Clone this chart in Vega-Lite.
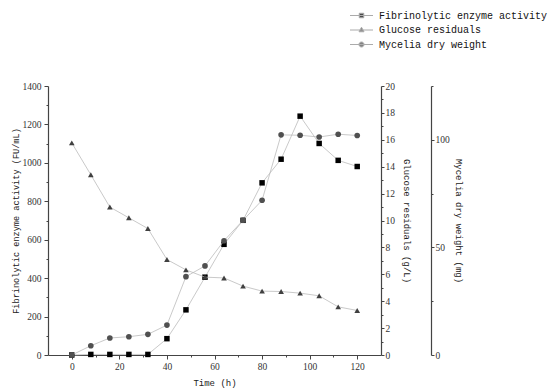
{
  "$schema": "https://vega.github.io/schema/vega-lite/v6.json",
  "autosize": "none",
  "width": 333,
  "height": 269,
  "padding": {"left": 48, "top": 86, "right": 169, "bottom": 37},
  "background": "white",
  "config": {
    "view": {"stroke": null},
    "axis": {
      "domainColor": "#444",
      "domainWidth": 1.2,
      "tickColor": "#444",
      "tickWidth": 1,
      "grid": false,
      "labelFont": "Liberation Serif",
      "labelFontSize": 9.5,
      "labelColor": "#333",
      "titleFont": "Liberation Mono",
      "titleFontSize": 9,
      "titleFontWeight": "normal",
      "titleColor": "#222",
      "labelOverlap": false,
      "labelFlush": false
    }
  },
  "data": {
    "values": [
      {"t": 0, "series": "Fibrinolytic enzyme activity", "v": 0},
      {"t": 8, "series": "Fibrinolytic enzyme activity", "v": 3},
      {"t": 16, "series": "Fibrinolytic enzyme activity", "v": 3},
      {"t": 24, "series": "Fibrinolytic enzyme activity", "v": 3},
      {"t": 32, "series": "Fibrinolytic enzyme activity", "v": 3},
      {"t": 40, "series": "Fibrinolytic enzyme activity", "v": 85},
      {"t": 48, "series": "Fibrinolytic enzyme activity", "v": 235},
      {"t": 56, "series": "Fibrinolytic enzyme activity", "v": 405},
      {"t": 64, "series": "Fibrinolytic enzyme activity", "v": 576},
      {"t": 72, "series": "Fibrinolytic enzyme activity", "v": 701},
      {"t": 80, "series": "Fibrinolytic enzyme activity", "v": 896},
      {"t": 88, "series": "Fibrinolytic enzyme activity", "v": 1019},
      {"t": 96, "series": "Fibrinolytic enzyme activity", "v": 1243},
      {"t": 104, "series": "Fibrinolytic enzyme activity", "v": 1101},
      {"t": 112, "series": "Fibrinolytic enzyme activity", "v": 1013},
      {"t": 120, "series": "Fibrinolytic enzyme activity", "v": 981},
      {"t": 0, "series": "Glucose residuals", "v": 15.77},
      {"t": 8, "series": "Glucose residuals", "v": 13.4},
      {"t": 16, "series": "Glucose residuals", "v": 11.0},
      {"t": 24, "series": "Glucose residuals", "v": 10.2},
      {"t": 32, "series": "Glucose residuals", "v": 9.4},
      {"t": 40, "series": "Glucose residuals", "v": 7.1},
      {"t": 48, "series": "Glucose residuals", "v": 6.33},
      {"t": 56, "series": "Glucose residuals", "v": 5.79},
      {"t": 64, "series": "Glucose residuals", "v": 5.73},
      {"t": 72, "series": "Glucose residuals", "v": 5.12},
      {"t": 80, "series": "Glucose residuals", "v": 4.75},
      {"t": 88, "series": "Glucose residuals", "v": 4.72},
      {"t": 96, "series": "Glucose residuals", "v": 4.6},
      {"t": 104, "series": "Glucose residuals", "v": 4.4},
      {"t": 112, "series": "Glucose residuals", "v": 3.58},
      {"t": 120, "series": "Glucose residuals", "v": 3.31},
      {"t": 0, "series": "Mycelia dry weight", "v": 0},
      {"t": 8, "series": "Mycelia dry weight", "v": 4.3},
      {"t": 16, "series": "Mycelia dry weight", "v": 7.9},
      {"t": 24, "series": "Mycelia dry weight", "v": 8.5},
      {"t": 32, "series": "Mycelia dry weight", "v": 9.6},
      {"t": 40, "series": "Mycelia dry weight", "v": 13.9},
      {"t": 48, "series": "Mycelia dry weight", "v": 36.4},
      {"t": 56, "series": "Mycelia dry weight", "v": 41.4},
      {"t": 64, "series": "Mycelia dry weight", "v": 53.1},
      {"t": 72, "series": "Mycelia dry weight", "v": 62.6},
      {"t": 80, "series": "Mycelia dry weight", "v": 71.9},
      {"t": 88, "series": "Mycelia dry weight", "v": 102.3},
      {"t": 96, "series": "Mycelia dry weight", "v": 102.1},
      {"t": 104, "series": "Mycelia dry weight", "v": 101.3},
      {"t": 112, "series": "Mycelia dry weight", "v": 102.6},
      {"t": 120, "series": "Mycelia dry weight", "v": 102}
    ]
  },
  "encoding": {
    "x": {
      "field": "t",
      "type": "quantitative",
      "scale": {"domain": [-10, 130], "nice": false, "zero": false},
      "axis": {
        "title": "Time (h)",
        "values": [0, 10, 20, 30, 40, 50, 60, 70, 80, 90, 100, 110, 120],
        "labelExpr": "datum.value % 20 === 0 ? datum.label : ''",
        "tickSize": {"condition": {"test": "datum.value % 20 === 0", "value": 4}, "value": 2},
        "labelPadding": 2,
        "titlePadding": 8
      }
    }
  },
  "layer": [
    {
      "transform": [{"filter": "datum.series === 'Fibrinolytic enzyme activity'"}],
      "encoding": {
        "y": {
          "field": "v",
          "type": "quantitative",
          "scale": {"domain": [0, 1400], "nice": false},
          "axis": {
            "orient": "left",
            "title": "Fibrinolytic enzyme activity (FU/mL)",
            "titleFontSize": 8.6,
            "values": [0, 100, 200, 300, 400, 500, 600, 700, 800, 900, 1000, 1100, 1200, 1300, 1400],
            "format": "d",
            "labelExpr": "datum.value % 200 === 0 ? datum.label : ''",
            "tickSize": {"condition": {"test": "datum.value % 200 === 0", "value": 4}, "value": 2},
            "labelPadding": 3,
            "titlePadding": 2
          }
        }
      },
      "layer": [
        {"mark": {"type": "line", "color": "#bbbbbb", "strokeWidth": 0.8}},
        {"mark": {"type": "point", "shape": "square", "filled": true, "color": "#000000", "size": 30, "opacity": 1}}
      ]
    },
    {
      "transform": [{"filter": "datum.series === 'Glucose residuals'"}],
      "encoding": {
        "y": {
          "field": "v",
          "type": "quantitative",
          "scale": {"domain": [0, 20], "nice": false},
          "axis": {
            "orient": "right",
            "title": "Glucose residuals (g/L)",
            "values": [0, 1, 2, 3, 4, 5, 6, 7, 8, 9, 10, 11, 12, 13, 14, 15, 16, 17, 18, 19, 20],
            "labelExpr": "datum.value % 2 === 0 ? datum.label : ''",
            "tickSize": {"condition": {"test": "datum.value % 2 === 0", "value": 3}, "value": 2},
            "labelPadding": 1,
            "titlePadding": 7
          }
        }
      },
      "layer": [
        {"mark": {"type": "line", "color": "#bbbbbb", "strokeWidth": 0.8}},
        {"mark": {"type": "point", "shape": "triangle-up", "filled": true, "color": "#404040", "size": 32, "opacity": 1}}
      ]
    },
    {
      "transform": [{"filter": "datum.series === 'Mycelia dry weight'"}],
      "encoding": {
        "y": {
          "field": "v",
          "type": "quantitative",
          "scale": {"domain": [0, 125], "nice": false},
          "axis": {
            "orient": "right",
            "offset": 50,
            "title": "Mycelia dry weight (mg)",
            "values": [0, 25, 50, 75, 100, 125],
            "labelExpr": "datum.value % 50 === 0 ? datum.label : ''",
            "tickSize": {"condition": {"test": "datum.value % 50 === 0", "value": 3}, "value": 2},
            "labelPadding": 1,
            "titlePadding": 4
          }
        }
      },
      "layer": [
        {"mark": {"type": "line", "color": "#bbbbbb", "strokeWidth": 0.8}},
        {"mark": {"type": "point", "shape": "circle", "filled": true, "color": "#505050", "size": 32, "opacity": 1}}
      ]
    },
    {
      "transform": [{"filter": "datum.t < -100"}],
      "mark": {"type": "point", "filled": true, "size": 100},
      "encoding": {
        "color": {
          "field": "series",
          "type": "nominal",
          "scale": {
            "domain": ["Fibrinolytic enzyme activity", "Glucose residuals", "Mycelia dry weight"],
            "range": ["#000000", "#404040", "#505050"]
          },
          "legend": {
            "orient": "none",
            "legendX": 308,
            "legendY": -76,
            "title": null,
            "padding": 0,
            "labelFont": "Liberation Mono",
            "labelFontSize": 10,
            "labelColor": "#111",
            "labelOffset": 12,
            "labelLimit": 0,
            "rowPadding": 3.5,
            "symbolSize": 100,
            "symbolStrokeColor": "#888888",
            "symbolStrokeWidth": 1,
            "encode": {
              "symbols": {"update": {"stroke": {"value": "#888888"}, "strokeWidth": {"value": 1}, "strokeOpacity": {"value": 1}, "opacity": {"value": 1}}}
            }
          }
        },
        "shape": {
          "field": "series",
          "type": "nominal",
          "scale": {
            "domain": ["Fibrinolytic enzyme activity", "Glucose residuals", "Mycelia dry weight"],
            "range": [
              "M-2.3,0H2.3M-0.45,-0.45H0.45V0.45H-0.45Z",
              "M-2.3,0H2.3M0,-0.55L0.5,0.35H-0.5Z",
              "M-2.3,0H2.3M0.5,0A0.5,0.5,0,1,1,-0.5,0A0.5,0.5,0,1,1,0.5,0Z"
            ]
          },
          "legend": {
            "orient": "none",
            "legendX": 308,
            "legendY": -76,
            "title": null,
            "padding": 0,
            "labelFont": "Liberation Mono",
            "labelFontSize": 10,
            "labelColor": "#111",
            "labelOffset": 12,
            "labelLimit": 0,
            "rowPadding": 3.5,
            "symbolSize": 100,
            "symbolStrokeColor": "#888888",
            "symbolStrokeWidth": 1,
            "encode": {
              "symbols": {"update": {"stroke": {"value": "#888888"}, "strokeWidth": {"value": 1}, "strokeOpacity": {"value": 1}, "opacity": {"value": 1}}}
            }
          }
        }
      }
    }
  ],
  "resolve": {"scale": {"y": "independent"}}
}
